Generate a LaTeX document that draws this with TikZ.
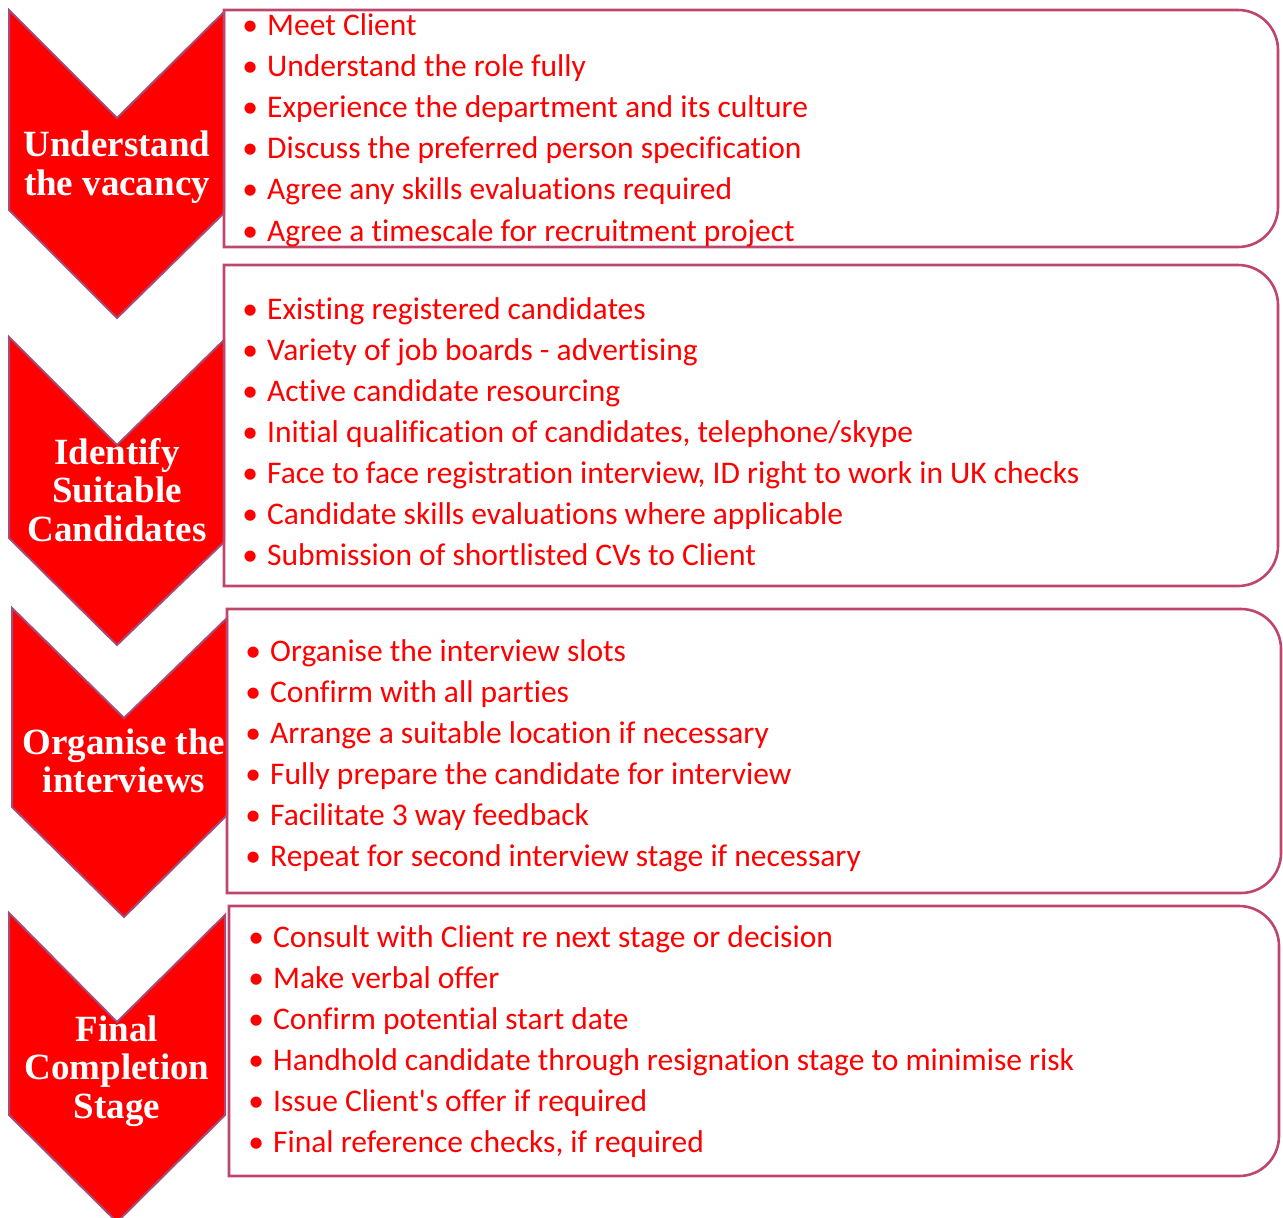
\documentclass[tikz,border=0pt]{standalone}
\usepackage{fontspec}
\usepackage{xcolor}
\usepackage{tikz}
\setmainfont{Carlito}[Ligatures=NoCommon]
\newfontfamily\headfont{Liberation Serif}
\definecolor{boxrose}{RGB}{190,70,108}
\definecolor{chevedge}{RGB}{165,75,120}

\begin{document}
\begin{tikzpicture}[
			x=1pt, y=-1pt,
			chev/.style={fill=red, draw=chevedge, line width=2pt, line join=miter},
			panel/.style={draw=boxrose, line width=2.6pt},
			head/.style={text=white, align=center, inner sep=0pt,
			    font=\headfont\bfseries\fontsize{37}{38.5}\selectfont},
			item/.style={text=red, anchor=base west, inner sep=0pt,
			    font=\fontsize{31.5}{36}\selectfont}]
			\useasboundingbox (0,0) rectangle (1283,1218);
			\draw[chev] (9,10) -- (117,118) -- (224,12) -- (224,213) -- (117,318) -- (9,210) -- cycle;
			\draw[chev] (9,337) -- (117,445) -- (224,340) -- (224,542) -- (117,645) -- (9,538) -- cycle;
			\draw[chev] (12,608) -- (124,718) -- (227,618) -- (227,815) -- (124,917) -- (12,807) -- cycle;
			\draw[chev] (9,913) -- (117,1022) -- (225,915) -- (225,1115) -- (117,1222) -- (9,1115) -- cycle;
			\draw[panel] (224,247) -- (224,10) [rounded corners=40pt] -- (1278,10) -- (1278,247) [sharp corners] -- cycle;
			\draw[panel] (224,586) -- (224,265) [rounded corners=40pt] -- (1278,265) -- (1278,586) [sharp corners] -- cycle;
			\draw[panel] (227,893) -- (227,609) [rounded corners=40pt] -- (1281,609) -- (1281,893) [sharp corners] -- cycle;
			\draw[panel] (229,1176) -- (229,906) [rounded corners=40pt] -- (1279,906) -- (1279,1176) [sharp corners] -- cycle;
			\node[head] (vacancy) at (117,167) {Understand\\the vacancy};
			\node[head] (identify) at (117,490) {Identify\\Suitable\\Candidates};
			\node[head] (organise) at (124,761) {Organise the\\interviews};
			\node[head] (final) at (117,1071) {Final\\Completion\\Stage};
			\foreach \txt [count=\i] in {Meet Client, Understand the role fully,
			    Experience the department and its culture, Discuss the preferred person specification,
			    Agree any skills evaluations required, Agree a timescale for recruitment project}
			    \node[item] (meet\i) at (267,{35+41.2*(\i-1)}) {\llap{\makebox[34pt]{\textbullet}}\txt};
			\foreach \txt [count=\i] in {Existing registered candidates, Variety of job boards - advertising,
			    Active candidate resourcing, {Initial qualification of candidates, telephone/skype},
			    {Face to face registration interview, ID right to work in UK checks},
			    Candidate skills evaluations where applicable, Submission of shortlisted CVs to Client}
			    \node[item] (find\i) at (267,{319+41*(\i-1)}) {\llap{\makebox[34pt]{\textbullet}}\txt};
			\foreach \txt [count=\i] in {Organise the interview slots, Confirm with all parties,
			    Arrange a suitable location if necessary, Fully prepare the candidate for interview,
			    Facilitate 3 way feedback, Repeat for second interview stage if necessary}
			    \node[item] (slot\i) at (270,{661+41*(\i-1)}) {\llap{\makebox[34pt]{\textbullet}}\txt};
			\foreach \txt [count=\i] in {Consult with Client re next stage or decision, Make verbal offer,
			    Confirm potential start date, Handhold candidate through resignation stage to minimise risk,
			    Issue Client\textquotesingle s offer if required, {Final reference checks, if required}}
			    \node[item] (offer\i) at (273,{947+41*(\i-1)}) {\llap{\makebox[34pt]{\textbullet}}\txt};
		\end{tikzpicture}
\end{document}
